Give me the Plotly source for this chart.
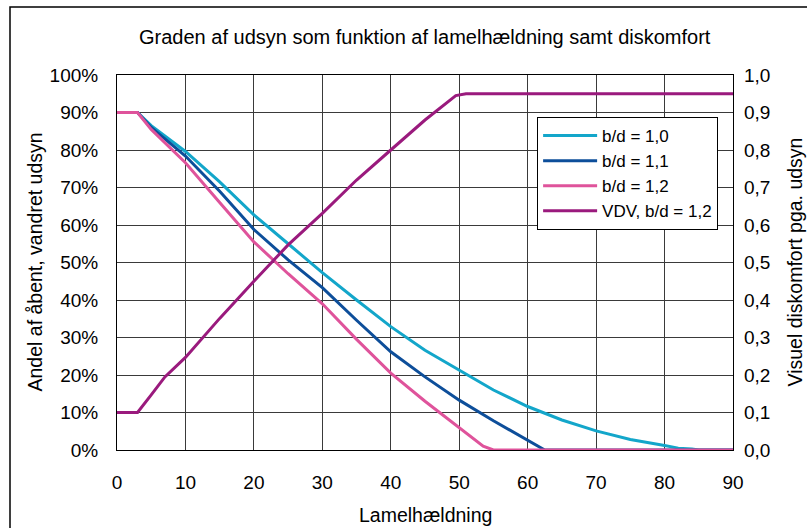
import plotly.graph_objects as go

# Lamel angle (degrees) and readings for each curve
deg_10 = [0, 3, 5, 10, 15, 20, 25, 30, 35, 40, 45, 50, 55, 60, 65, 70, 75, 80, 82, 84, 85, 90]
bd_10 = [90, 90, 86.5, 79.6, 71.5, 62.7, 55, 47.3, 40, 32.9, 26.6, 21.2, 16, 11.6, 8, 5.1, 2.8, 1.2, 0.5, 0.3, 0, 0]

deg_11 = [0, 3, 5, 10, 15, 20, 25, 30, 35, 40, 45, 50, 55, 60, 62.5, 90]
bd_11 = [90, 90, 86, 78.4, 69, 58.8, 50.7, 43.3, 34.6, 26.2, 19.5, 13.3, 7.8, 2.7, 0, 0]

deg_12 = [0, 3, 5, 10, 15, 20, 25, 30, 35, 40, 45, 50, 53.5, 55, 90]
bd_12 = [90, 90, 85.5, 76.6, 66, 55.5, 47, 39, 29.5, 20.5, 13, 5.8, 1, 0, 0]

deg_vdv = [0, 3, 5, 7, 10, 15, 20, 25, 30, 35, 40, 45, 49.5, 51, 90]
vdv_12 = [0.10, 0.10, 0.147, 0.195, 0.247, 0.351, 0.450, 0.547, 0.631, 0.72, 0.80, 0.88, 0.945, 0.95, 0.95]

names = ["b/d = 1,0", "b/d = 1,1", "b/d = 1,2", "VDV, b/d = 1,2"]
colors = ["#13A6CA", "#0D4E9A", "#DF539B", "#9A1A7D"]

x_ticks = list(range(0, 91, 10))
y_ticks = list(range(0, 101, 10))
y_labels = [f"{v}%" for v in y_ticks]
y2_ticks = [i / 10 for i in range(11)]

FONT = "Liberation Sans, Arial, sans-serif"

fig = go.Figure()
for i, (xs, ys) in enumerate([(deg_10, bd_10), (deg_11, bd_11), (deg_12, bd_12)]):
    fig.add_trace(go.Scatter(x=xs, y=ys, mode="lines", name=names[i],
                             line=dict(color=colors[i], width=3)))
fig.add_trace(go.Scatter(x=deg_vdv, y=vdv_12, mode="lines", name=names[3],
                         yaxis="y2", line=dict(color=colors[3], width=3)))

grid = "#3a3a3a"
fig.update_layout(
    width=807, height=528,
    margin=dict(l=117, r=74, t=75, b=78),
    paper_bgcolor="white", plot_bgcolor="white",
    separators=",.",
    font=dict(family=FONT, size=19, color="black"),
    showlegend=True,
    legend=dict(x=0.682, y=0.888, xanchor="left", yanchor="top",
                bgcolor="white", bordercolor="black", borderwidth=1,
                font=dict(size=17), itemwidth=54),
    xaxis=dict(range=[0, 90], tickvals=x_ticks, ticks="", showgrid=True,
               gridcolor=grid, gridwidth=1, showline=True, linecolor="black",
               linewidth=1, mirror=True, zeroline=False,
               ticklabelstandoff=15),
    yaxis=dict(range=[0, 100], tickvals=y_ticks, ticktext=y_labels, ticks="",
               showgrid=True, gridcolor=grid, gridwidth=1, showline=True,
               linecolor="black", linewidth=1, mirror=True, zeroline=False,
               ticklabelstandoff=14),
    yaxis2=dict(range=[0, 1], tickvals=y2_ticks, tickformat=".1f",
                overlaying="y", side="right", showgrid=False, ticks="",
                zeroline=False, showline=False, ticklabelstandoff=10),
)

# chart titles
fig.add_annotation(text="Graden af udsyn som funktion af lamelhældning samt diskomfort",
                   xref="paper", yref="paper", x=0.5, y=(450 - 37) / 375,
                   xanchor="center", yanchor="middle", showarrow=False,
                   font=dict(size=20))
fig.add_annotation(text="Lamelhældning", xref="paper", yref="paper",
                   x=0.5, y=(450 - 515) / 375, xanchor="center", yanchor="middle",
                   showarrow=False, font=dict(size=19.5))
fig.add_annotation(text="Andel af åbent, vandret udsyn", xref="paper", yref="paper",
                   x=(34 - 117) / 616, y=0.5, textangle=-90,
                   xanchor="center", yanchor="middle", showarrow=False,
                   font=dict(size=19.5))
fig.add_annotation(text="Visuel diskomfort pga. udsyn", xref="paper", yref="paper",
                   x=(794 - 117) / 616, y=0.5, textangle=-90,
                   xanchor="center", yanchor="middle", showarrow=False,
                   font=dict(size=19.5))

# outer chart frame
fig.add_shape(type="rect", xref="paper", yref="paper",
              x0=(10 - 117) / 616, x1=(860 - 117) / 616,
              y0=(450 - 570) / 375, y1=(450 - 7) / 375,
              line=dict(color="black", width=1.5), layer="below")

fig.write_html("out.html")
